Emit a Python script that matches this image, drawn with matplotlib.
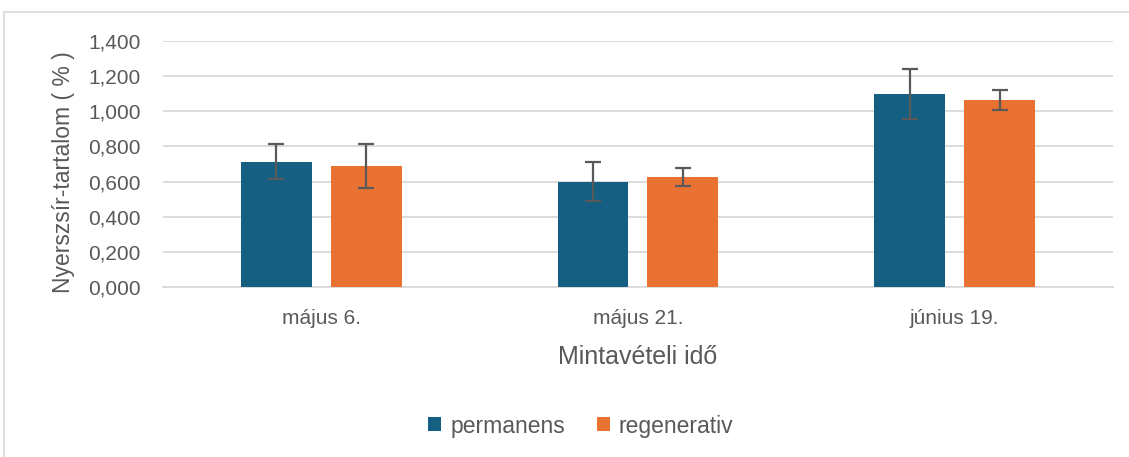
import matplotlib
matplotlib.use("Agg")
import matplotlib.pyplot as plt
import numpy as np
from matplotlib.patches import Rectangle
from matplotlib.ticker import FuncFormatter

categories = ["május 6.", "május 21.", "június 19."]
series_names = ["permanens", "regenerativ"]
permanens = [0.713, 0.600, 1.099]
regenerativ = [0.689, 0.626, 1.066]
permanens_err = [0.099, 0.110, 0.141]
regenerativ_err = [0.125, 0.050, 0.057]
y_ticks = [0.0, 0.2, 0.4, 0.6, 0.8, 1.0, 1.2, 1.4]

blue = "#156082"
orange = "#E97132"
text_col = "#595959"
grid_col = "#D9D9D9"

plt.rcParams['font.family'] = ['Liberation Sans', 'DejaVu Sans']

fig = plt.figure(figsize=(11.29, 4.57), dpi=100)
ax = fig.add_axes([163/1129, 1-287/457, (1113-163)/1129, (287-41)/457])

# Outer border of the chart area
fig.patches.append(Rectangle((4/1129, -0.05), 1.1, 1-12/457+0.05, transform=fig.transFigure,
                             fill=False, edgecolor="#D9D9D9", linewidth=1.2))

x = np.arange(len(categories))
w = 0.224
off = 0.142
ekw = dict(ecolor="#595959", elinewidth=1.6, capsize=6, capthick=1.6)
ax.bar(x - off, permanens, w, color=blue, label=series_names[0], zorder=3,
       yerr=permanens_err, error_kw=ekw)
ax.bar(x + off, regenerativ, w, color=orange, label=series_names[1], zorder=3,
       yerr=regenerativ_err, error_kw=ekw)

ax.set_xlim(-0.5, 2.5)
ax.set_ylim(0, 1.4)
ax.set_yticks(y_ticks)
ax.yaxis.set_major_formatter(FuncFormatter(lambda v, p: f"{v:.3f}".replace(".", ",")))
ax.grid(axis="y", color=grid_col, linewidth=1.3, zorder=0)
ax.set_axisbelow(True)
for s in ["top", "right", "left"]:
    ax.spines[s].set_visible(False)
ax.spines["bottom"].set_color(grid_col)
ax.spines["bottom"].set_linewidth(1.3)
ax.tick_params(axis="both", length=0, colors=text_col)
ax.tick_params(axis="y", pad=16, labelsize=15)
ax.tick_params(axis="x", pad=16, labelsize=15)
ax.set_xticks(x)
ax.set_xticklabels(categories)

ax.set_ylabel("Nyerszsír-tartalom ( % )", fontsize=16.5, color=text_col)
ax.yaxis.set_label_coords(-(163 - 75) / 950, (287 - 172) / 246)
ax.set_xlabel("Mintavételi idő", fontsize=18, color=text_col, labelpad=12)

leg = fig.legend(loc="center", bbox_to_anchor=(581/1129, 1-426/457), ncol=2, frameon=False,
                 fontsize=16.5, handlelength=0.55, handleheight=0.55, handletextpad=0.4,
                 columnspacing=1.4)
for t in leg.get_texts():
    t.set_color(text_col)

fig.savefig("out.png", dpi=100)
